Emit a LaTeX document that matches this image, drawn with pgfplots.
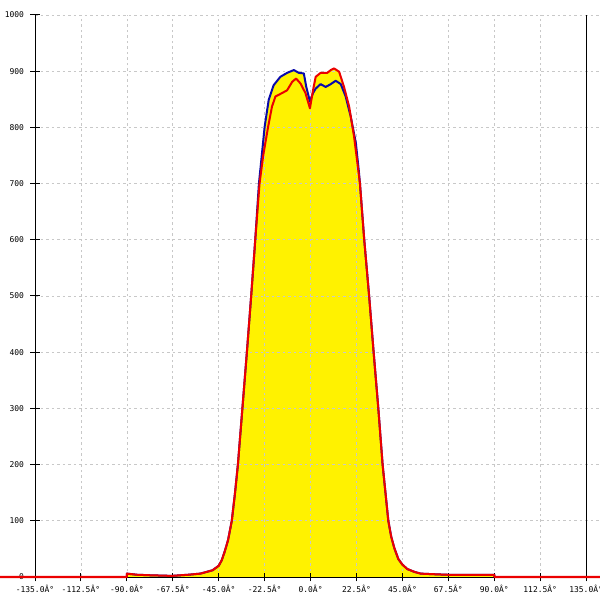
\documentclass[border=0pt]{standalone}
\usepackage{pgfplots}
\pgfplotsset{compat=1.18}
\usepackage{fontspec}
\setmonofont{DejaVu Sans Mono}
\usetikzlibrary{calc}
\definecolor{cblue}{RGB}{10,10,170}
\definecolor{cred}{RGB}{235,0,0}
\definecolor{cgrid}{RGB}{200,200,200}
\begin{document}
\begin{tikzpicture}
\begin{axis}[
  set layers=standard,
  scale only axis, width=565bp, height=562bp,
  xmin=-135, xmax=141.8, ymin=0, ymax=1000,
  axis lines=left, axis line style={-, black, line width=1bp},
  clip=false,
  xtick={-135,-112.5,-90,-67.5,-45,-22.5,0,22.5,45,67.5,90,112.5},
  xticklabels={-135.0Â°,-112.5Â°,-90.0Â°,-67.5Â°,-45.0Â°,-22.5Â°,0.0Â°,22.5Â°,45.0Â°,67.5Â°,90.0Â°,112.5Â°},
  extra x ticks={135}, extra x tick labels={135.0Â°},
  extra x tick style={major grid style={solid,black,line width=1bp}},
  ytick={0,100,200,300,400,500,600,700,800,900,1000},
  yticklabels={0,100,200,300,400,500,600,700,800,900,1000},
  grid=major,
  major grid style={cgrid, dash pattern=on 2.5bp off 3bp, line width=0.7bp},
  tick align=center, major tick length=9bp, tick style={black, line width=1bp},
  ticklabel style={font=\ttfamily\fontsize{8}{9}\selectfont},
  yticklabel style={xshift=-3bp},
]
\addplot[on layer=axis background, fill=yellow, draw=none] coordinates {
(-90,0)(-90,6)(-85,4)(-78,3)(-68,2)(-60,4)(-54,6)(-48,12)(-45,20)(-43.5,30)(-42,46)(-40.4,66)(-38.6,100)(-37,150)(-35.6,200)(-33.4,300)(-31.2,400)(-29.1,500)(-27.1,600)(-25.3,700)(-23.9,750)(-22.5,801)(-20.5,849)(-18.1,875)(-14.8,890)(-11.5,897)(-8.2,902)(-5.7,897)(-3.3,896)(-2.1,872)(-0.3,846)(1.2,861)(2.5,869)(4.9,877)(7.4,872)(9.9,877)(12.3,883)(14.8,877)(17.2,855)(19.7,819)(22.2,772)(23.6,724)(24.2,700)(26.3,600)(28.7,500)(30.9,400)(33.2,300)(35.3,200)(36.7,150)(38.1,100)(39.5,72)(41,52)(43,32)(45,22)(47.5,14)(51,9)(54,6)(60,5)(67,4)(75,4)(82,4)(90,4)(90,0)
} \closedcycle;
\addplot[on layer=axis background, fill=yellow, draw=none] coordinates {
(-90,0)(-90,6)(-85,4)(-78,3)(-68,2)(-60,4)(-54,6)(-48,12)(-45,20)(-43.5,30)(-42,46)(-40.4,66)(-38.6,100)(-37,150)(-35.6,200)(-33.4,300)(-31.2,400)(-29.1,500)(-27.1,600)(-25.0,700)(-23.2,750)(-20.8,801)(-18.9,837)(-17.2,855)(-14.0,861)(-11.5,866)(-9.0,881)(-7.1,887)(-4.9,878)(-2.5,861)(-0.3,834)(1.2,866)(2.5,890)(4.9,897)(8.2,897)(9.9,902)(11.5,905)(14.0,899)(16.4,872)(18.9,837)(21.3,784)(23.0,735)(24.2,700)(26.3,600)(28.7,500)(30.9,400)(33.2,300)(35.3,200)(36.7,150)(38.1,100)(39.5,72)(41,52)(43,32)(45,22)(47.5,14)(51,9)(54,6)(60,5)(67,4)(75,4)(82,4)(90,4)(90,0)
} \closedcycle;
\addplot[cblue, line width=2bp, line join=round] coordinates {
(-90,0)(-90,6)(-85,4)(-78,3)(-68,2)(-60,4)(-54,6)(-48,12)(-45,20)(-43.5,30)(-42,46)(-40.4,66)(-38.6,100)(-37,150)(-35.6,200)(-33.4,300)(-31.2,400)(-29.1,500)(-27.1,600)(-25.3,700)(-23.9,750)(-22.5,801)(-20.5,849)(-18.1,875)(-14.8,890)(-11.5,897)(-8.2,902)(-5.7,897)(-3.3,896)(-2.1,872)(-0.3,846)(1.2,861)(2.5,869)(4.9,877)(7.4,872)(9.9,877)(12.3,883)(14.8,877)(17.2,855)(19.7,819)(22.2,772)(23.6,724)(24.2,700)(26.3,600)(28.7,500)(30.9,400)(33.2,300)(35.3,200)(36.7,150)(38.1,100)(39.5,72)(41,52)(43,32)(45,22)(47.5,14)(51,9)(54,6)(60,5)(67,4)(75,4)(82,4)(90,4)(90,0)
};
\addplot[cred, line width=2bp, line join=round] coordinates {
(-152.1,0)(-90,0)(-90,6)(-85,4)(-78,3)(-68,2)(-60,4)(-54,6)(-48,12)(-45,20)(-43.5,30)(-42,46)(-40.4,66)(-38.6,100)(-37,150)(-35.6,200)(-33.4,300)(-31.2,400)(-29.1,500)(-27.1,600)(-25.0,700)(-23.2,750)(-20.8,801)(-18.9,837)(-17.2,855)(-14.0,861)(-11.5,866)(-9.0,881)(-7.1,887)(-4.9,878)(-2.5,861)(-0.3,834)(1.2,866)(2.5,890)(4.9,897)(8.2,897)(9.9,902)(11.5,905)(14.0,899)(16.4,872)(18.9,837)(21.3,784)(23.0,735)(24.2,700)(26.3,600)(28.7,500)(30.9,400)(33.2,300)(35.3,200)(36.7,150)(38.1,100)(39.5,72)(41,52)(43,32)(45,22)(47.5,14)(51,9)(54,6)(60,5)(67,4)(75,4)(82,4)(90,4)(90,0)(141.8,0)
};
\end{axis}
\pgfresetboundingbox
\path[use as bounding box] ($(current axis.south west)+(-35bp,-23bp)$) rectangle ($(current axis.north east)+(0,15bp)$);
\end{tikzpicture}
\end{document}
